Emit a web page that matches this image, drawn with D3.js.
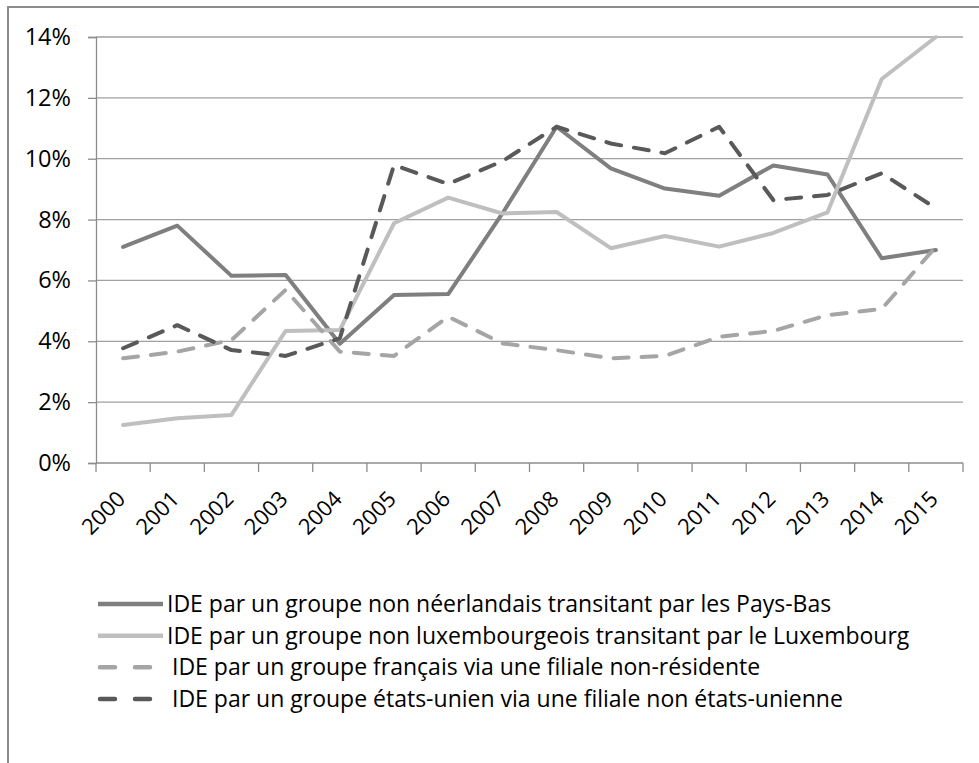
<!DOCTYPE html>
<html>
<head>
<meta charset="utf-8">
<script src="https://cdnjs.cloudflare.com/ajax/libs/d3/7.8.5/d3.min.js"></script>
<style>
  body { margin: 0; background: #fff; }
  text { font-family: "Open Sans", sans-serif; fill: #000; }
</style>
</head>
<body>
<svg class="chart"></svg>
<script>
let years = ["2000","2001","2002","2003","2004","2005","2006","2007","2008","2009","2010","2011","2012","2013","2014","2015"];
let yTicks = [0, 0.02, 0.04, 0.06, 0.08, 0.10, 0.12, 0.14];

let seriesNames = [
  "IDE par un groupe non néerlandais transitant par les Pays-Bas",
  "IDE par un groupe non luxembourgeois transitant par le Luxembourg",
  "IDE par un groupe français via une filiale non-résidente",
  "IDE par un groupe états-unien via une filiale non états-unienne"
];

let paysBas    = [7.1, 7.8, 6.15, 6.18, 3.92, 5.52, 5.55, 8.2, 11.05, 9.68, 9.02, 8.78, 9.78, 9.48, 6.73, 7.0];
let luxembourg = [1.25, 1.47, 1.58, 4.34, 4.37, 7.88, 8.72, 8.2, 8.25, 7.06, 7.46, 7.11, 7.56, 8.24, 12.62, 14.0];
let francais   = [3.44, 3.66, 4.04, 5.69, 3.66, 3.52, 4.81, 3.93, 3.71, 3.44, 3.52, 4.15, 4.34, 4.86, 5.06, 7.11];
let etatsUnis  = [3.77, 4.53, 3.71, 3.52, 4.1, 9.79, 9.17, 9.92, 11.05, 10.5, 10.18, 11.05, 8.64, 8.81, 9.52, 8.37];

let seriesData = [paysBas, luxembourg, francais, etatsUnis];
let colors = ["#7f7f7f", "#bfbfbf", "#a5a5a5", "#595959"];
let dashes = [null, null, "15,13", "15,13"];

let svgWidth = 979, svgHeight = 763;
let plot = {left: 96, right: 963, top: 37, bottom: 463};

let svg = d3.select('.chart')
  .attr("width", svgWidth)
  .attr("height", svgHeight);

// outer frame (runs past the picture on the right and bottom)
svg.append("rect")
  .attr("x", 8).attr("y", 7)
  .attr("width", 1000).attr("height", 800)
  .attr("fill", "none")
  .attr("stroke", "#8c8c8c")
  .attr("stroke-width", 2);

let x = d3.scaleBand().domain(years).range([plot.left, plot.right]).padding(0);
let y = d3.scaleLinear().domain([0, 0.14]).range([plot.bottom, plot.top]);

// gridlines
svg.append("g")
  .selectAll("line")
  .data(yTicks.slice(1))
  .enter()
  .append("line")
  .attr("x1", plot.left).attr("x2", plot.right)
  .attr("y1", d => y(d)).attr("y2", d => y(d))
  .attr("stroke", "#a0a0a0")
  .attr("stroke-width", 1.3);

// y axis
let yAxis = svg.append("g")
  .attr("transform", "translate(" + plot.left + ",0)")
  .call(d3.axisLeft(y).tickValues(yTicks).tickFormat(d3.format(".0%")).tickSize(8).tickPadding(17));
yAxis.select(".domain").attr("stroke", "#8c8c8c").attr("stroke-width", 1.3);
yAxis.selectAll(".tick line").attr("stroke", "#8c8c8c").attr("stroke-width", 1.3);
yAxis.selectAll(".tick text")
  .attr("font-family", "Open Sans")
  .attr("font-size", 23.5)
  .attr("fill", "#000");

// x axis line and ticks between categories
svg.append("line")
  .attr("x1", plot.left).attr("x2", plot.right)
  .attr("y1", plot.bottom).attr("y2", plot.bottom)
  .attr("stroke", "#8c8c8c").attr("stroke-width", 1.3);

let edges = years.map(d => x(d)).concat([plot.right]);
svg.append("g")
  .selectAll("line")
  .data(edges)
  .enter()
  .append("line")
  .attr("x1", d => d).attr("x2", d => d)
  .attr("y1", plot.bottom).attr("y2", plot.bottom + 9)
  .attr("stroke", "#8c8c8c").attr("stroke-width", 1.3);

svg.append("g")
  .selectAll("text")
  .data(years)
  .enter()
  .append("text")
  .attr("transform", d => "translate(" + (x(d) + x.bandwidth() / 2 - 2) + "," + (plot.bottom + 32) + ") rotate(-45)")
  .attr("text-anchor", "end")
  .attr("dy", "0.35em")
  .attr("font-size", 22)
  .text(d => d);

// lines
let line = d3.line()
  .x((d, i) => x(years[i]) + x.bandwidth() / 2)
  .y(d => y(d / 100));

svg.append("g")
  .selectAll("path")
  .data(seriesData)
  .enter()
  .append("path")
  .attr("d", d => line(d))
  .attr("fill", "none")
  .attr("stroke", (d, i) => colors[i])
  .attr("stroke-width", 4)
  .attr("stroke-linejoin", "round")
  .attr("stroke-linecap", "round")
  .attr("stroke-dasharray", (d, i) => dashes[i]);

// legend
let legendY = d3.scalePoint().domain(d3.range(4)).range([604, 699]);
let legend = svg.append("g")
  .selectAll("g")
  .data(seriesNames)
  .enter()
  .append("g")
  .attr("transform", (d, i) => "translate(0," + legendY(i) + ")");

legend.append("line")
  .attr("x1", (d, i) => dashes[i] ? 100 : 98)
  .attr("x2", 163)
  .attr("y1", 0).attr("y2", 0)
  .attr("stroke", (d, i) => colors[i])
  .attr("stroke-width", 4.5)
  .attr("stroke-linecap", (d, i) => dashes[i] ? "round" : "butt")
  .attr("stroke-dasharray", (d, i) => dashes[i] ? "15,20" : null);

legend.append("text")
  .attr("x", (d, i) => dashes[i] ? 172 : 167)
  .attr("dy", "0.35em")
  .attr("font-size", 23)
  .text(d => d);
</script>
</body>
</html>
